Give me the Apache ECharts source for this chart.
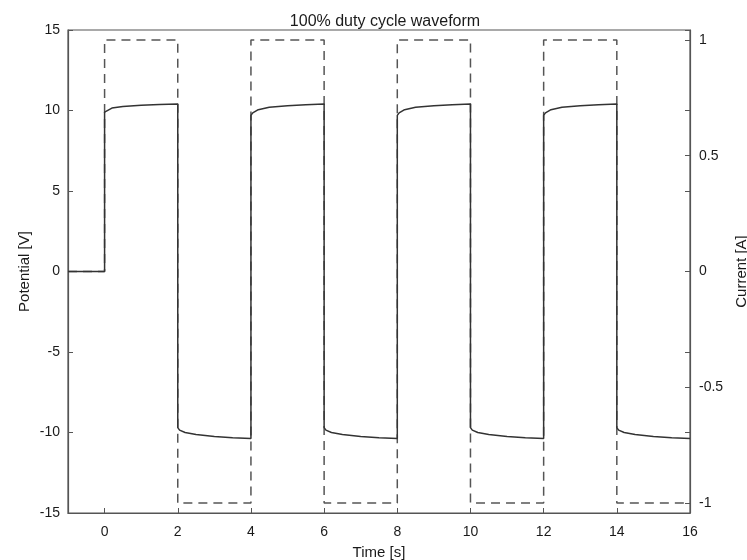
<!DOCTYPE html>
<html>
<head>
<meta charset="utf-8">
<script src="https://cdn.jsdelivr.net/npm/echarts@6/dist/echarts.min.js"></script>
<style>
  html, body { margin: 0; padding: 0; background: #fff; }
  #chart { width: 747px; height: 560px; }
</style>
</head>
<body>
<div id="chart"></div>
<script>
// potential trace (solid)
const timeS = [
  -1, 0,
  0, 0.05, 0.2, 0.5, 1, 1.5, 2,
  2, 2.05, 2.2, 2.5, 3, 3.5, 4,
  4, 4.05, 4.2, 4.5, 5, 5.5, 6,
  6, 6.05, 6.2, 6.5, 7, 7.5, 8,
  8, 8.05, 8.2, 8.5, 9, 9.5, 10,
  10, 10.05, 10.2, 10.5, 11, 11.5, 12,
  12, 12.05, 12.2, 12.5, 13, 13.5, 14,
  14, 14.05, 14.2, 14.5, 15, 15.5, 16
];
const potentialV = [
  0, 0,
  9.9, 10.02, 10.15, 10.25, 10.33, 10.38, 10.4,
  -9.7, -9.85, -10.0, -10.12, -10.25, -10.33, -10.38,
  9.7, 9.85, 10.05, 10.2, 10.3, 10.36, 10.4,
  -9.7, -9.85, -10.0, -10.12, -10.25, -10.33, -10.38,
  9.7, 9.85, 10.05, 10.2, 10.3, 10.36, 10.4,
  -9.7, -9.85, -10.0, -10.12, -10.25, -10.33, -10.38,
  9.7, 9.85, 10.05, 10.2, 10.3, 10.36, 10.4,
  -9.7, -9.85, -10.0, -10.12, -10.25, -10.33, -10.38
];

// current square wave (dashed)
const currentT = [-1, 0, 0, 2, 2, 4, 4, 6, 6, 8, 8, 10, 10, 12, 12, 14, 14, 16];
const currentA = [0, 0, 1, 1, -1, -1, 1, 1, -1, -1, 1, 1, -1, -1, 1, 1, -1, -1];

const timeTicks = [0, 2, 4, 6, 8, 10, 12, 14, 16];
const currentTicks = [-1, -0.5, 0, 0.5, 1];

const potential = timeS.map((t, i) => [t, potentialV[i]]);
const current = currentT.map((t, i) => [t, currentA[i]]);

const axisColor = "#555";
const textColor = "#1a1a1a";
const font = "Liberation Sans, Arial, sans-serif";

const chart = echarts.init(document.getElementById("chart"));
chart.setOption({
  animation: false,
  backgroundColor: "#fff",
  textStyle: { fontFamily: font },
  title: {
    text: "100% duty cycle waveform",
    left: 380,
    top: 9,
    textAlign: "center",
    textStyle: { fontSize: 16, fontWeight: "normal", color: textColor, fontFamily: font }
  },
  grid: {
    left: 68, right: 57, top: 30, bottom: 47,
    outerBoundsMode: "none",
    show: true, borderColor: axisColor, borderWidth: 1.2
  },
  xAxis: {
    type: "value",
    min: -1, max: 16,
    name: "Time [s]",
    nameLocation: "middle",
    nameGap: 32,
    nameTextStyle: { fontSize: 15, color: textColor },
    axisLine: { show: true, onZero: false, lineStyle: { color: axisColor, width: 1.2 } },
    axisTick: { show: true, inside: true, length: 5, customValues: timeTicks, lineStyle: { color: axisColor } },
    axisLabel: { customValues: timeTicks, fontSize: 14, color: textColor, margin: 12 },
    splitLine: { show: false }
  },
  yAxis: [
    {
      type: "value",
      min: -15, max: 15, interval: 5,
      name: "Potential [V]",
      nameLocation: "middle",
      nameGap: 36,
      nameMoveOverlap: false,
      nameTextStyle: { fontSize: 15, color: textColor },
      axisLine: { show: true, onZero: false, lineStyle: { color: axisColor, width: 1.2 } },
      axisTick: { show: true, inside: true, length: 5, lineStyle: { color: axisColor } },
      axisLabel: { fontSize: 14, color: textColor, margin: 8 },
      splitLine: { show: false }
    },
    {
      type: "value",
      position: "right",
      min: -1.043, max: 1.043,
      name: "Current [A]",
      nameLocation: "middle",
      nameGap: 42,
      nameRotate: 90,
      nameTextStyle: { fontSize: 15, color: textColor },
      axisLine: { show: true, onZero: false, lineStyle: { color: axisColor, width: 1.2 } },
      axisTick: { show: true, inside: true, length: 5, customValues: currentTicks, lineStyle: { color: axisColor } },
      axisLabel: { customValues: currentTicks, fontSize: 14, color: textColor, margin: 9 },
      splitLine: { show: false }
    },
    {
      // left-axis ticks mirrored on the right side of the box
      type: "value",
      position: "right",
      min: -15, max: 15, interval: 5,
      axisLine: { show: false, onZero: false },
      axisTick: { show: true, inside: true, length: 5, lineStyle: { color: axisColor } },
      axisLabel: { show: false },
      splitLine: { show: false }
    }
  ],
  series: [
    {
      name: "Current",
      type: "line",
      yAxisIndex: 1,
      data: current,
      showSymbol: false,
      lineStyle: { color: "#555", width: 1.5, type: [9, 6] },
      z: 2
    },
    {
      name: "Potential",
      type: "line",
      yAxisIndex: 0,
      data: potential,
      showSymbol: false,
      lineStyle: { color: "#333", width: 1.5 },
      z: 3
    }
  ]
});
</script>
</body>
</html>
